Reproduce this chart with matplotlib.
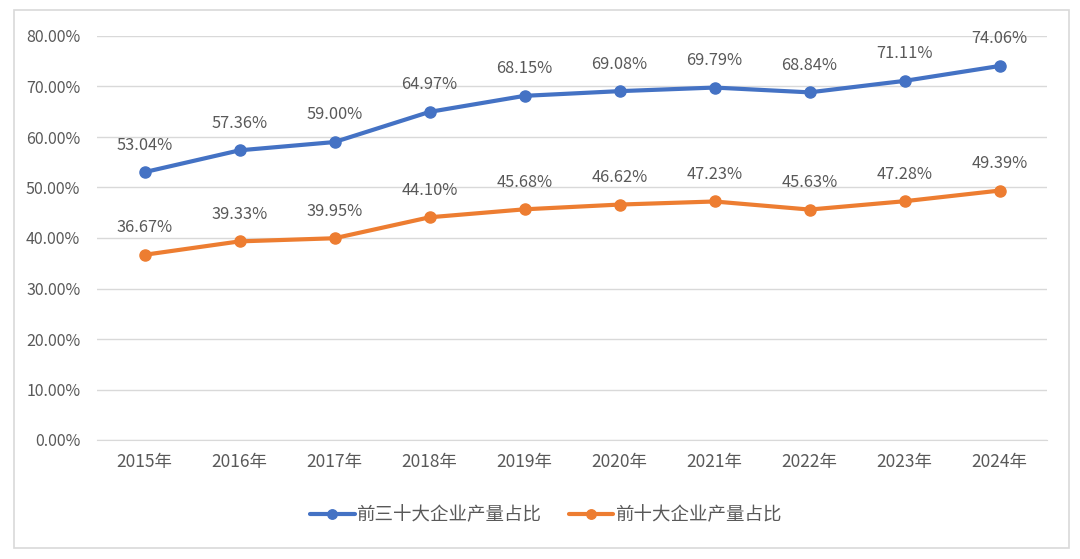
import matplotlib
matplotlib.use("Agg")
import matplotlib.pyplot as plt
from matplotlib.patches import Rectangle
from matplotlib.ticker import FuncFormatter

plt.rcParams['font.family'] = ['Noto Sans CJK SC', 'DejaVu Sans']

years = ["2015年", "2016年", "2017年", "2018年", "2019年", "2020年", "2021年", "2022年", "2023年", "2024年"]
top30 = [53.04, 57.36, 59.00, 64.97, 68.15, 69.08, 69.79, 68.84, 71.11, 74.06]
top10 = [36.67, 39.33, 39.95, 44.10, 45.68, 46.62, 47.23, 45.63, 47.28, 49.39]
series_names = ["前三十大企业产量占比", "前十大企业产量占比"]

W, H = 1080, 559
fig = plt.figure(figsize=(W / 100, H / 100), dpi=100)
fig.patch.set_facecolor("white")

# outer border
fig.patches.append(Rectangle((14 / W, 1 - 548 / H), (1069 - 14) / W, (548 - 10) / H,
                             transform=fig.transFigure, fill=False, edgecolor="#d9d9d9", linewidth=1.2))

ax = fig.add_axes([97 / W, 1 - 440 / H, (1047 - 97) / W, (440 - 36) / H])
text_color = "#595959"
grid_color = "#d9d9d9"

x = list(range(len(years)))
colors = ["#4472C4", "#ED7D31"]
for vals, c, name in zip([top30, top10], colors, series_names):
    ax.plot(x, vals, color=c, linewidth=3, marker="o", markersize=8, label=name, solid_capstyle="round")
    for xi, v in zip(x, vals):
        ax.annotate(f"{v:.2f}%", (xi, v), xytext=(0, 19.5), textcoords="offset points",
                    ha="center", va="center", fontsize=11.8, color=text_color)

ax.set_xlim(-0.5, len(years) - 0.5)
ax.set_ylim(0, 80)
ax.set_yticks(range(0, 81, 10))
ax.yaxis.set_major_formatter(FuncFormatter(lambda v, p: f"{v:.2f}%"))
ax.set_xticks(x)
ax.set_xticklabels(years)
ax.grid(axis="y", color=grid_color, linewidth=1)
ax.set_axisbelow(True)
for s in ["top", "right", "left"]:
    ax.spines[s].set_visible(False)
ax.spines["bottom"].set_color(grid_color)
ax.tick_params(axis="y", length=0, colors=text_color, labelsize=11.5, pad=12)
ax.tick_params(axis="x", length=0, colors=text_color, labelsize=12.5, pad=9)

leg = fig.legend(loc="center", bbox_to_anchor=(546 / W, 1 - 515 / H), ncol=2, frameon=False,
                 fontsize=13.3, handlelength=2.4, columnspacing=1.5, handletextpad=0.1,
                 markerscale=0.85)
for t in leg.get_texts():
    t.set_color(text_color)

fig.savefig("out.png", dpi=100, facecolor="white")
